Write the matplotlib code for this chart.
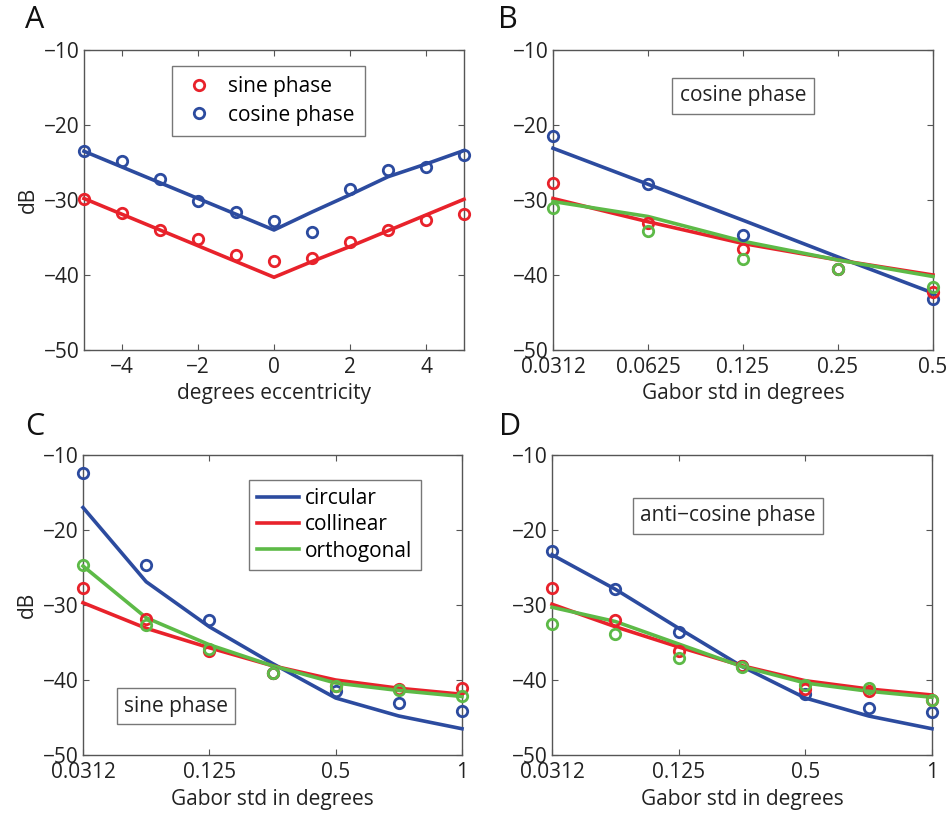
import matplotlib
matplotlib.use("Agg")
import matplotlib.pyplot as plt
import numpy as np

plt.rcParams['font.family'] = ['Open Sans', 'DejaVu Sans']

BLUE = '#2c4b9f'
RED = '#e8222b'
GREEN = '#5dba47'

# panel A: eccentricity
ecc = [-5, -4, -3, -2, -1, 0, 1, 2, 3, 4, 5]
a_sine_pts = [-29.9, -31.7, -34.0, -35.2, -37.3, -38.1, -37.7, -35.6, -34.0, -32.7, -31.9]
a_cos_pts = [-23.5, -24.8, -27.2, -30.1, -31.6, -32.8, -34.3, -28.5, -26.0, -25.6, -24.0]
a_sine_fit = [-29.8, -31.9, -34.0, -36.1, -38.2, -40.3, -38.2, -36.2, -34.1, -32.0, -29.9]
a_cos_fit = [-23.5, -25.6, -27.7, -29.8, -31.9, -34.0, -31.6, -29.3, -26.9, -25.2, -23.4]

# panel B: cosine phase, gabor std
b_labels = ['0.0312', '0.0625', '0.125', '0.25', '0.5']
b_circ_pts = [-21.4, -27.9, -34.6, -39.2, -43.2]
b_coll_pts = [-27.7, -33.0, -36.5, -39.2, -42.2]
b_orth_pts = [-31.0, -34.1, -37.8, -39.2, -41.6]
b_circ_fit = [-23.1, -27.9, -32.7, -37.6, -42.4]
b_coll_fit = [-29.8, -32.9, -35.8, -38.0, -40.0]
b_orth_fit = [-30.2, -32.2, -35.5, -38.0, -40.2]

# panels C and D: 7 gabor sizes, labelled every other one
cd_labels = ['0.0312', '', '0.125', '', '0.5', '', '1']

c_circ_pts = [-12.4, -24.6, -32.0, -39.0, -41.5, -43.1, -44.1]
c_coll_pts = [-27.7, -31.9, -36.1, -39.0, -40.8, -41.2, -41.1]
c_orth_pts = [-24.7, -32.7, -35.9, -39.0, -40.8, -41.3, -42.1]
c_circ_fit = [-17.0, -26.9, -32.9, -37.8, -42.4, -44.8, -46.5]
c_coll_fit = [-29.7, -33.1, -35.7, -38.1, -40.0, -41.1, -41.9]
c_orth_fit = [-24.8, -31.7, -35.3, -38.1, -40.4, -41.4, -42.2]

d_circ_pts = [-22.8, -27.9, -33.6, -38.1, -41.9, -43.7, -44.3]
d_coll_pts = [-27.7, -32.0, -36.1, -38.1, -41.2, -41.4, -42.6]
d_orth_pts = [-32.5, -33.9, -37.0, -38.2, -40.7, -41.0, -42.6]
d_circ_fit = [-23.3, -27.9, -33.1, -38.2, -42.4, -44.8, -46.5]
d_coll_fit = [-29.9, -32.9, -35.6, -38.1, -40.1, -41.2, -42.0]
d_orth_fit = [-30.3, -32.2, -35.2, -38.2, -40.4, -41.5, -42.3]

W, H = 947, 816
fig = plt.figure(figsize=(W / 100, H / 100), dpi=100)


def make_ax(left, top, right, bottom):
    ax = fig.add_axes([left / W, 1 - bottom / H, (right - left) / W, (bottom - top) / H])
    for s in ax.spines.values():
        s.set_color('#555555')
        s.set_linewidth(1.0)
    ax.tick_params(direction='in', top=True, right=True, length=4, width=0.8,
                   color='#555555', labelsize=15, labelcolor='#222222')
    ax.tick_params(axis='y', pad=3)
    ax.tick_params(axis='x', pad=5)
    ax.set_ylim(-50, -10)
    ax.set_yticks([-50, -40, -30, -20, -10])
    return ax


LW = 2.6
MS = 7.5
MEW = 2.0


def pts(ax, x, y, c):
    ax.plot(x, y, 'o', ms=MS, mfc='none', mec=c, mew=MEW, clip_on=False, zorder=4)


def fit(ax, x, y, c, label=None):
    ax.plot(x, y, '-', color=c, lw=LW, clip_on=False, zorder=3, label=label)


def textbox(ax, x, y, s):
    ax.text(x, y, s, transform=ax.transAxes, ha='center', va='center', fontsize=15,
            color='#222222',
            bbox=dict(boxstyle='square,pad=0.35', fc='white', ec='#777777', lw=1.0))


# A
axA = make_ax(84, 50, 464, 350)
fit(axA, ecc, a_cos_fit, BLUE)
fit(axA, ecc, a_sine_fit, RED)
pts(axA, ecc, a_sine_pts, RED)
pts(axA, ecc, a_cos_pts, BLUE)
axA.set_xlim(-5, 5)
axA.set_xticks([-4, -2, 0, 2, 4])
axA.set_xlabel('degrees eccentricity', fontsize=15, color='#222222')
axA.set_ylabel('dB', fontsize=15, color='#222222')
hs = axA.plot([], [], 'o', ms=MS, mfc='none', mec=RED, mew=MEW, label='sine phase')
hc = axA.plot([], [], 'o', ms=MS, mfc='none', mec=BLUE, mew=MEW, label='cosine phase')
legA = axA.legend(handles=hs + hc, loc='upper left', bbox_to_anchor=(0.232, 0.947),
                  borderaxespad=0, fontsize=15, fancybox=False, framealpha=1,
                  edgecolor='#777777', handlelength=1.6, handletextpad=0.6,
                  borderpad=0.5, labelspacing=0.35)
legA.get_frame().set_linewidth(1.0)

# B
axB = make_ax(553, 50, 933, 350)
xb = np.arange(len(b_labels))
fit(axB, xb, b_circ_fit, BLUE)
fit(axB, xb, b_coll_fit, RED)
fit(axB, xb, b_orth_fit, GREEN)
pts(axB, xb, b_circ_pts, BLUE)
pts(axB, xb, b_coll_pts, RED)
pts(axB, xb, b_orth_pts, GREEN)
axB.set_xlim(0, len(b_labels) - 1)
axB.set_xticks(xb)
axB.set_xticklabels(b_labels)
axB.set_xlabel('Gabor std in degrees', fontsize=15, color='#222222')
textbox(axB, 0.5, 0.847, 'cosine phase')

# C
axC = make_ax(83, 455, 462, 755)
xc = np.arange(len(cd_labels))
fit(axC, xc, c_circ_fit, BLUE, 'circular')
fit(axC, xc, c_coll_fit, RED, 'collinear')
fit(axC, xc, c_orth_fit, GREEN, 'orthogonal')
pts(axC, xc, c_circ_pts, BLUE)
pts(axC, xc, c_coll_pts, RED)
pts(axC, xc, c_orth_pts, GREEN)
axC.set_xlim(0, len(cd_labels) - 1)
axC.set_xticks(xc[::2])
axC.set_xticklabels(cd_labels[::2])
axC.set_xlabel('Gabor std in degrees', fontsize=15, color='#222222')
axC.set_ylabel('dB', fontsize=15, color='#222222')
legC = axC.legend(loc='upper left', bbox_to_anchor=(0.438, 0.917), borderaxespad=0,
                  fontsize=15, fancybox=False, framealpha=1, edgecolor='#777777',
                  handlelength=2.0, handletextpad=0.3, borderpad=0.4, labelspacing=0.25)
legC.get_frame().set_linewidth(1.0)
textbox(axC, 0.245, 0.163, 'sine phase')

# D
axD = make_ax(552, 455, 932, 755)
fit(axD, xc, d_circ_fit, BLUE)
fit(axD, xc, d_coll_fit, RED)
fit(axD, xc, d_orth_fit, GREEN)
pts(axD, xc, d_circ_pts, BLUE)
pts(axD, xc, d_coll_pts, RED)
pts(axD, xc, d_orth_pts, GREEN)
axD.set_xlim(0, len(cd_labels) - 1)
axD.set_xticks(xc[::2])
axD.set_xticklabels(cd_labels[::2])
axD.set_xlabel('Gabor std in degrees', fontsize=15, color='#222222')
textbox(axD, 0.463, 0.797, 'anti\u2212cosine phase')

for lab, x, y in [('A', 35, 20), ('B', 508, 20), ('C', 35, 427), ('D', 510, 427)]:
    fig.text(x / W, 1 - y / H, lab, fontsize=22, ha='center', va='center', color='#111111')

fig.savefig('out.png', dpi=100)
